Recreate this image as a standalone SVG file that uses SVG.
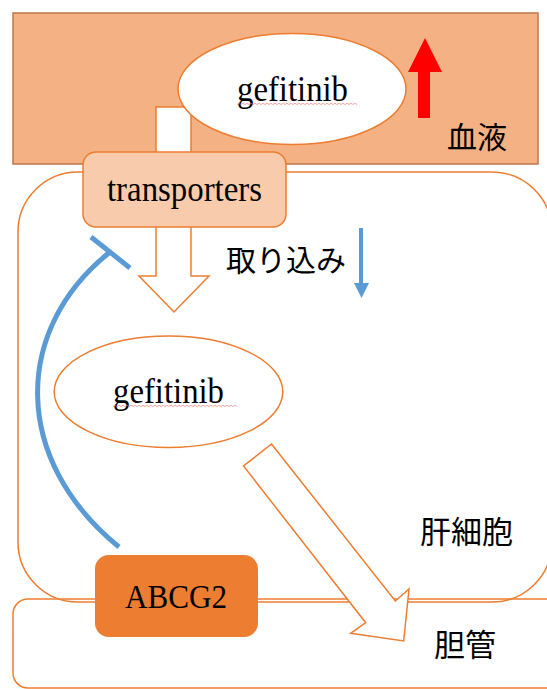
<svg xmlns="http://www.w3.org/2000/svg" width="547" height="689" viewBox="0 0 547 689">
<style>
.lat{font-family:"Liberation Serif","Times New Roman",serif;fill:#000}
.jp{font-family:"Noto Sans CJK JP","Noto Sans CJK SC",sans-serif;fill:#000}
.ol{fill:#fff;stroke:#ED7D31;stroke-width:1.5}
.wavy{fill:none;stroke:#E87070;stroke-width:0.8;opacity:0.8}
.blue{fill:none;stroke:#5B9BD5;stroke-width:5}
</style>
<rect width="547" height="689" fill="#fff"/>
<g id="blood">
<rect x="13" y="13" width="525" height="151" fill="#F4B183" stroke="#C0784A" stroke-width="1.5"/>
<text class="jp" x="447" y="148" font-size="30">血液</text>
</g>
<g id="hepatocyte">
<rect x="18" y="172" width="534" height="430" rx="60" ry="60" fill="none" stroke="#ED7D31" stroke-width="1.5"/>
<text class="jp" x="420" y="543" font-size="31">肝細胞</text>
</g>
<g id="bileduct">
<rect x="13" y="599" width="560" height="89" rx="15" ry="15" fill="none" stroke="#ED7D31" stroke-width="1.5"/>
<text class="jp" x="434" y="656" font-size="31">胆管</text>
</g>
<g id="connectors">
<path class="ol" d="M156,107 H191 V276 H209 L174,312 L139,276 H156 Z"/>
<path class="ol" d="M271.5,444 L395.3,601 L409,589 L403.7,641 L350.7,633.3 L365.7,622.7 L243.5,466 Z"/>
<path d="M425,38 L442,72 L430,72 L430,118 L418,118 L418,72 L408,72 Z" fill="#FF0000"/>
<path d="M361,228 V285" stroke="#5B9BD5" stroke-width="4" fill="none"/>
<path d="M354,283 L369,283 L361.5,298 Z" fill="#5B9BD5"/>
<path class="blue" d="M119,547 C12,460 12,330 110,252"/>
<path class="blue" d="M91,237 L130,268"/>
</g>
<g id="gefitinib-blood">
<ellipse class="ol" cx="292" cy="89" rx="114" ry="55.5"/>
<text class="lat" x="237" y="101" font-size="36" textLength="111" lengthAdjust="spacingAndGlyphs">gefitinib</text>
<path class="wavy" d="M237,104.5 l2,-1.2 2,1.2 2,-1.2 2,1.2 2,-1.2 2,1.2 2,-1.2 2,1.2 2,-1.2 2,1.2 2,-1.2 2,1.2 2,-1.2 2,1.2 2,-1.2 2,1.2 2,-1.2 2,1.2 2,-1.2 2,1.2 2,-1.2 2,1.2 2,-1.2 2,1.2 2,-1.2 2,1.2 2,-1.2 2,1.2 2,-1.2 2,1.2 2,-1.2 2,1.2 2,-1.2 2,1.2 2,-1.2 2,1.2 2,-1.2 2,1.2 2,-1.2 2,1.2 2,-1.2 2,1.2 2,-1.2 2,1.2 2,-1.2 2,1.2 2,-1.2 2,1.2 2,-1.2 2,1.2 2,-1.2 2,1.2 2,-1.2 2,1.2 2,-1.2 2,1.2 2,-1.2 2,1.2 2,-1.2 2,1.2"/>
</g>
<g id="transporters">
<rect x="83" y="152" width="203" height="75" rx="13" ry="13" fill="#F8CBAD" stroke="#ED7D31" stroke-width="1.5"/>
<text class="lat" x="107" y="201" font-size="36" textLength="155" lengthAdjust="spacingAndGlyphs">transporters</text>
</g>
<g id="uptake-label">
<text class="jp" x="226" y="271" font-size="30">取り込み</text>
</g>
<g id="gefitinib-cell">
<ellipse class="ol" cx="168.5" cy="391.7" rx="114.3" ry="55.7"/>
<text class="lat" x="113" y="403" font-size="36" textLength="111" lengthAdjust="spacingAndGlyphs">gefitinib</text>
<path class="wavy" d="M113,406.5 l2,-1.2 2,1.2 2,-1.2 2,1.2 2,-1.2 2,1.2 2,-1.2 2,1.2 2,-1.2 2,1.2 2,-1.2 2,1.2 2,-1.2 2,1.2 2,-1.2 2,1.2 2,-1.2 2,1.2 2,-1.2 2,1.2 2,-1.2 2,1.2 2,-1.2 2,1.2 2,-1.2 2,1.2 2,-1.2 2,1.2 2,-1.2 2,1.2 2,-1.2 2,1.2 2,-1.2 2,1.2 2,-1.2 2,1.2 2,-1.2 2,1.2 2,-1.2 2,1.2 2,-1.2 2,1.2 2,-1.2 2,1.2 2,-1.2 2,1.2 2,-1.2 2,1.2 2,-1.2 2,1.2 2,-1.2 2,1.2 2,-1.2 2,1.2 2,-1.2 2,1.2 2,-1.2 2,1.2 2,-1.2 2,1.2 2,-1.2 2,1.2"/>
</g>
<g id="abcg2">
<rect x="95" y="555" width="163" height="82" rx="14" ry="14" fill="#ED7D31"/>
<text class="lat" x="125" y="608" font-size="33" textLength="102" lengthAdjust="spacingAndGlyphs">ABCG2</text>
</g>
</svg>
